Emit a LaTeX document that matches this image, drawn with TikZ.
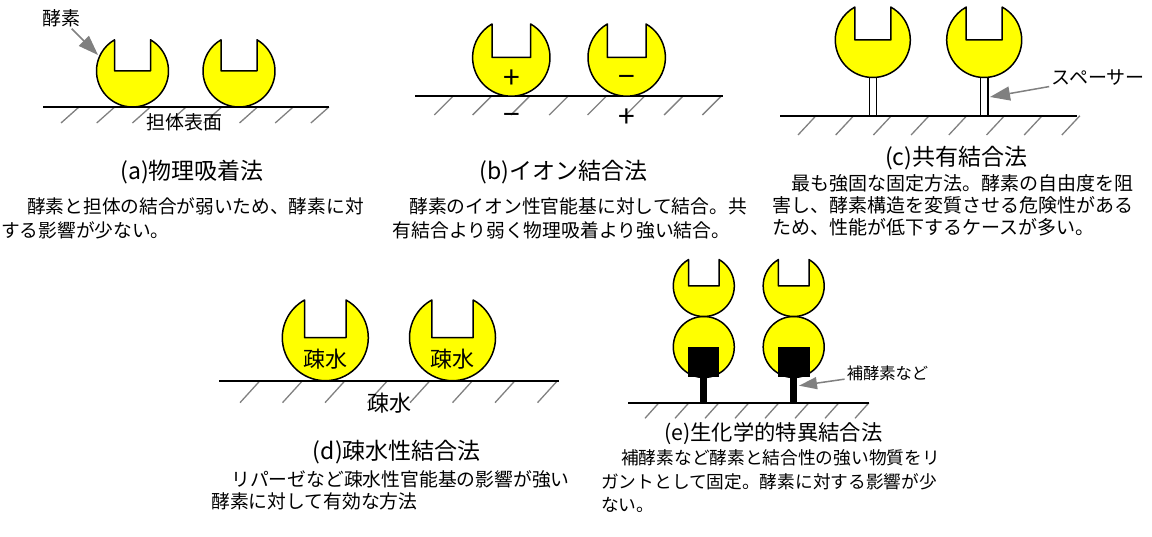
\documentclass[tikz,border=0pt]{standalone}
\usepackage{fontspec}
\setmainfont{Noto Sans CJK JP}
\usetikzlibrary{arrows.meta}

\definecolor{enzY}{HTML}{FFFF00}
\definecolor{hatchG}{HTML}{808080}

% enzyme: disc with a rectangular slot cut from the top
% #1,#2 centre, #3 radius, #4 half width of the slot
\newcommand\drawEnzyme[4]{%
  \filldraw[enzbody] ({#1+#4},#2) -- ++(0,{-sqrt((#3)*(#3)-(#4)*(#4))})
    arc[start angle={-acos((#4)/(#3))}, end angle={180+acos((#4)/(#3))}, radius=#3]
    -- ({#1-#4},#2) -- cycle;}

% row of hatch strokes under a surface
% #1 first lower-left x, #2 lower y, #3 dx, #4 dy, #5 spacing, #6 last index
\newcommand\hatchRow[6]{%
  \foreach \k in {0,...,#6} \draw[hatch] ({#1+\k*#5},#2) -- ++(#3,{-#4});}

\tikzset{
  enzbody/.style={fill=enzY, draw=black, line width=1.5pt, line join=round},
  hatch/.style={draw=hatchG, line width=1.3pt},
  ground/.style={draw=black, line width=1.8pt},
  spacer/.style={fill=white, draw=black, line width=1.2pt},
  ptr/.style={draw=hatchG, line width=1.5pt,
    -{Triangle[length=20pt,width=14pt,fill=hatchG]}, shorten <=1pt},
  lbl/.style={inner sep=1pt, font=\fontsize{19}{19}\selectfont},
  sign/.style={inner sep=0pt, font=\fontsize{30}{30}\selectfont},
  captext/.style={anchor=east, inner sep=0pt, font=\fontsize{23}{23}\selectfont},
  body/.style={anchor=west, inner sep=0pt},
}

\begin{document}
\begin{tikzpicture}[x=1pt, y=-1pt]
\useasboundingbox (0,0) rectangle (1152,537);

% ---------- (a) physical adsorption ----------
\hatchRow{61}{123}{18}{16}{35.7}{7}
\draw[ground] (43,107) -- (329,107);
\drawEnzyme{132.5}{71}{36}{18}
\drawEnzyme{239}{71}{36}{18}
\node[lbl] (lblEnzA) at (61,18) {酵素};
\coordinate (tipEnzA) at (98,55);
\draw[ptr] (lblEnzA) -- (tipEnzA);
\node[lbl] (lblSurf) at (184,122) {担体表面};

\node[captext] (capA) at (264,171.7) {(a)物理吸着法};
\begin{scope}[font=\fontsize{18.7}{18.7}\selectfont]
\node[body] (txtA1) at (27,206.7) {酵素と担体の結合が弱いため、酵素に対};
\node[body] (txtA2) at (1,230) {する影響が少ない。};
\end{scope}

% ---------- (b) ionic binding ----------
\hatchRow{434.3}{115}{19}{19}{38.3}{7}
\draw[ground] (415,96) -- (723,96);
\drawEnzyme{511.3}{57.5}{38.7}{19.3}
\drawEnzyme{626.7}{57.5}{38.7}{19.3}
\node[sign] (plusE) at (511.5,79.5) {+};
\node[sign] (minusE) at (626.7,81.5) {−};
\node[sign] (minusS) at (511.7,119) {−};
\node[sign] (plusS) at (626.5,118) {+};

\node[captext] (capB) at (647.5,171.7) {(b)イオン結合法};
\begin{scope}[font=\fontsize{18.8}{18.8}\selectfont]
\node[body] (txtB1) at (409,206.7) {酵素のイオン性官能基に対して結合。共};
\node[body] (txtB2) at (392.5,230) {有結合より弱く物理吸着より強い結合。};
\end{scope}

% ---------- (c) covalent binding ----------
\hatchRow{798}{135}{18}{19.3}{37.7}{7}
\filldraw[spacer] (869.3,76) rectangle (876.7,115.7);
\filldraw[spacer] (980.5,76) rectangle (987.9,115.7);
\draw[ground] (780,115.7) -- (1076.7,115.7);
\drawEnzyme{872.8}{40}{37.5}{18}
\drawEnzyme{984.2}{40}{37.5}{18}
\node[lbl] (lblSpacer) at (1098,78) {スペーサー};
\coordinate (tipSpacer) at (990,97);
\draw[ptr] (lblSpacer) -- (tipSpacer);

\node[captext] (capC) at (1027.5,158.3) {(c)共有結合法};
\begin{scope}[font=\fontsize{19}{19}\selectfont]
\node[body] (txtC1) at (791,183.3) {最も強固な固定方法。酵素の自由度を阻};
\node[body] (txtC2) at (772.5,205) {害し、酵素構造を変質させる危険性がある};
\node[body] (txtC3) at (772.5,227.3) {ため、性能が低下するケースが多い。};
\end{scope}

% ---------- (d) hydrophobic binding ----------
\hatchRow{240}{402.7}{20}{22}{42.5}{7}
\draw[ground] (219,380.7) -- (559,380.7);
\drawEnzyme{325.3}{337.7}{43}{20.7}
\drawEnzyme{452.5}{337.7}{43}{20.7}
\node[lbl, font=\fontsize{22}{22}\selectfont] (hydA) at (325.3,359) {疎水};
\node[lbl, font=\fontsize{22}{22}\selectfont] (hydB) at (452.5,359) {疎水};
\node[lbl, font=\fontsize{22}{22}\selectfont] (hydS) at (389,403) {疎水};

\node[captext] (capD) at (481,451.7) {(d)疎水性結合法};
\begin{scope}[font=\fontsize{18.8}{18.8}\selectfont]
\node[body] (txtD1) at (231,479.3) {リパーゼなど疎水性官能基の影響が強い};
\node[body] (txtD2) at (211,501.7) {酵素に対して有効な方法};
\end{scope}

% ---------- (e) biospecific binding ----------
\hatchRow{645}{418.3}{14}{15.6}{30}{7}
\draw[ground] (628.3,402.7) -- (869.3,402.7);
\filldraw[enzbody] (703.8,347) circle[radius=30.5];
\filldraw[enzbody] (793.7,347) circle[radius=30.5];
\drawEnzyme{703.8}{286}{30.5}{15.3}
\drawEnzyme{793.7}{286}{30.5}{15.3}
\fill[black] (688.3,346.7) rectangle (719.3,377.3);
\fill[black] (778.3,346.7) rectangle (809.7,377.3);
\fill[black] (700,377) rectangle (707.3,402.7);
\fill[black] (790,377) rectangle (797.3,402.7);
\node[lbl, font=\fontsize{16.3}{16.3}\selectfont] (lblCoenz) at (887.5,373) {補酵素など};
\coordinate (tipCoenz) at (799,385.7);
\draw[ptr, -{Triangle[length=18pt,width=12pt,fill=hatchG]}] (lblCoenz) -- (tipCoenz);

\node[captext, font=\fontsize{21.3}{21.3}\selectfont] (capE) at (882.5,434) {(e)生化学的特異結合法};
\begin{scope}[font=\fontsize{17.7}{17.7}\selectfont]
\node[body] (txtE1) at (621,458.3) {補酵素など酵素と結合性の強い物質をリ};
\node[body] (txtE2) at (601,481.7) {ガントとして固定。酵素に対する影響が少};
\node[body] (txtE3) at (601,505) {ない。};
\end{scope}
\end{tikzpicture}
\end{document}
